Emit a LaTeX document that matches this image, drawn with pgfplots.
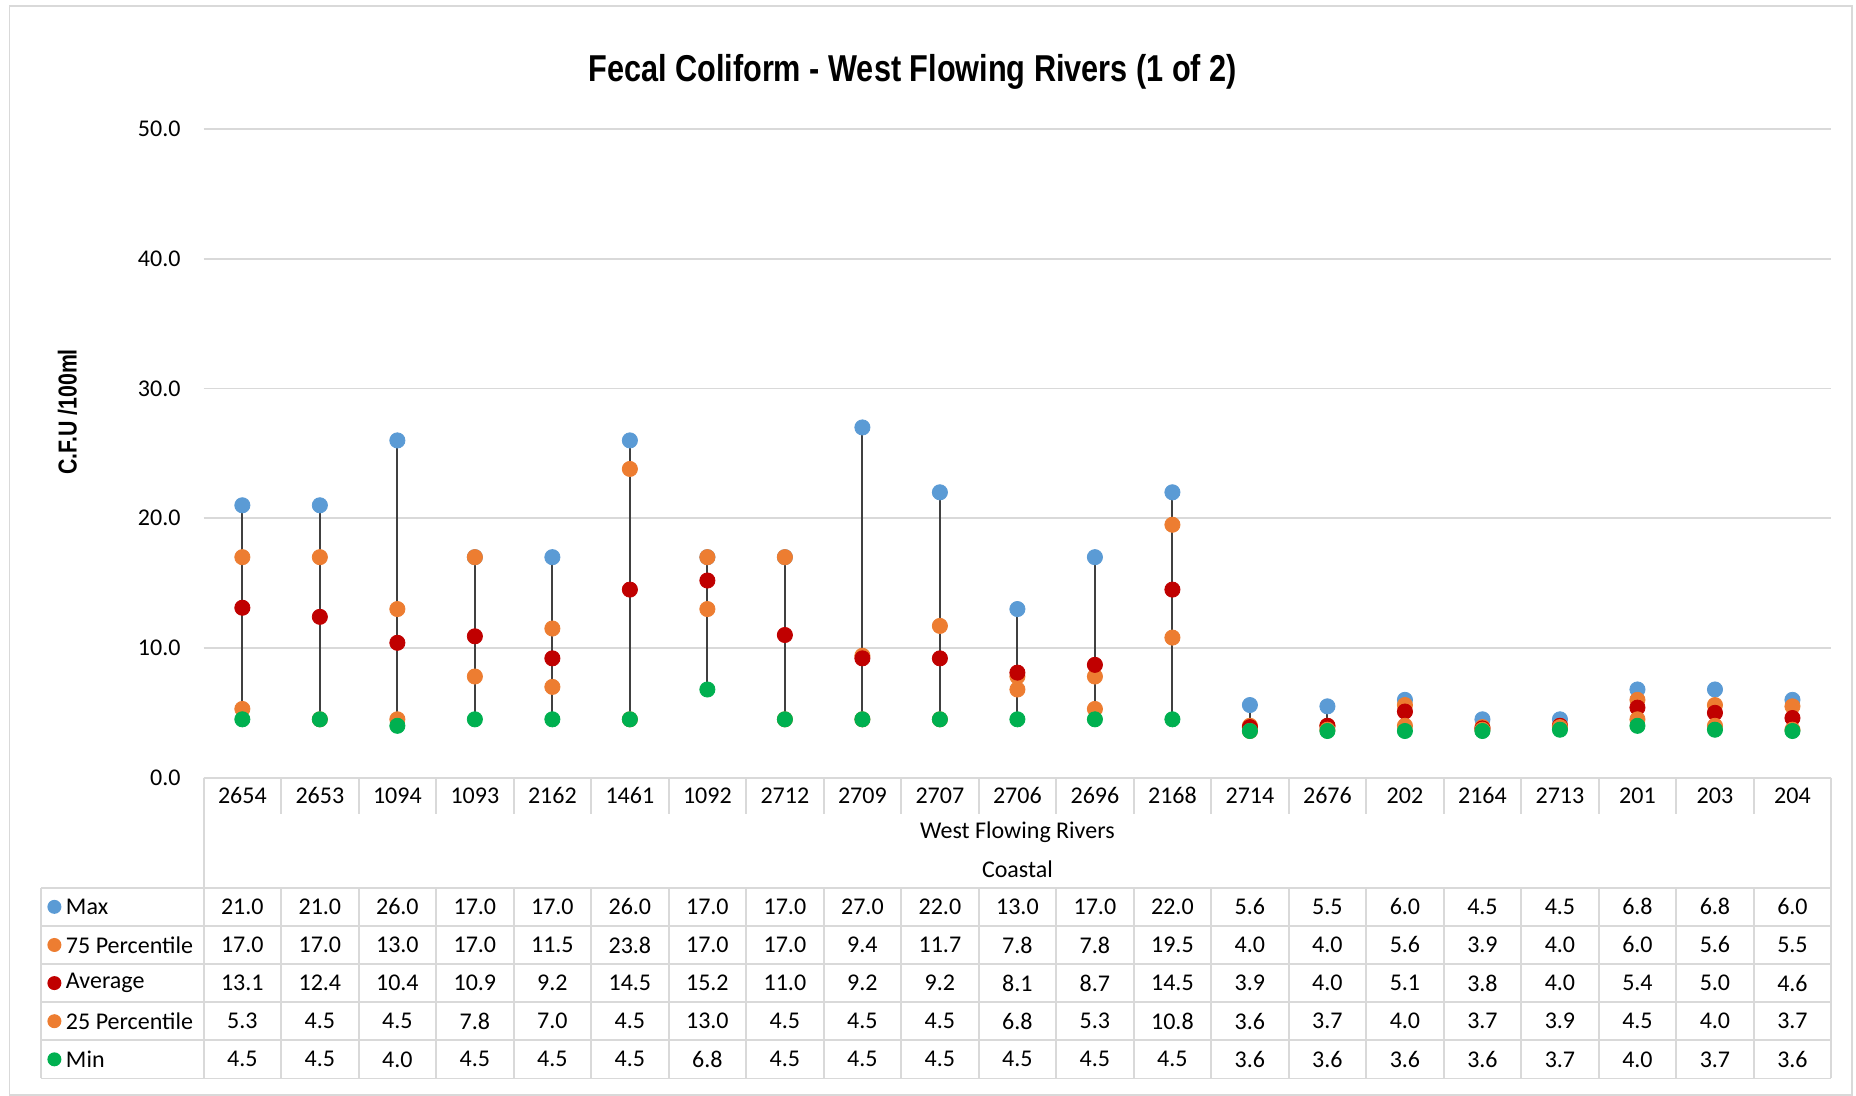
\documentclass[border=0pt]{standalone}
\usepackage{pgfplots}
\pgfplotsset{compat=1.18}
\usepackage{pgfplotstable}
\usepackage{fontspec}
\setmainfont{Carlito}
\newfontfamily\titlefont{Liberation Sans}[FakeStretch=0.82]
\definecolor{cmax}{HTML}{5B9BD5}
\definecolor{cpct}{HTML}{ED7D31}
\definecolor{cavg}{HTML}{C00000}
\definecolor{cmin}{HTML}{00B050}
\definecolor{gridc}{HTML}{D9D9D9}
\definecolor{hilo}{HTML}{404040}

\pgfplotstableread{
x name max p75 avg p25 min
0 2654 21.0 17.0 13.1 5.3 4.5
1 2653 21.0 17.0 12.4 4.5 4.5
2 1094 26.0 13.0 10.4 4.5 4.0
3 1093 17.0 17.0 10.9 7.8 4.5
4 2162 17.0 11.5 9.2 7.0 4.5
5 1461 26.0 23.8 14.5 4.5 4.5
6 1092 17.0 17.0 15.2 13.0 6.8
7 2712 17.0 17.0 11.0 4.5 4.5
8 2709 27.0 9.4 9.2 4.5 4.5
9 2707 22.0 11.7 9.2 4.5 4.5
10 2706 13.0 7.8 8.1 6.8 4.5
11 2696 17.0 7.8 8.7 5.3 4.5
12 2168 22.0 19.5 14.5 10.8 4.5
13 2714 5.6 4.0 3.9 3.6 3.6
14 2676 5.5 4.0 4.0 3.7 3.6
15 202 6.0 5.6 5.1 4.0 3.6
16 2164 4.5 3.9 3.8 3.7 3.6
17 2713 4.5 4.0 4.0 3.9 3.7
18 201 6.8 6.0 5.4 4.5 4.0
19 203 6.8 5.6 5.0 4.0 3.7
20 204 6.0 5.5 4.6 3.7 3.6
}\datatable

\begin{document}
\begin{tikzpicture}
\useasboundingbox (-101.8pt,-159.15pt) rectangle (826.2pt,388.85pt);
\fill[white] (-101.8pt,-159.15pt) rectangle (826.2pt,388.85pt);
\draw[gridc, line width=0.9pt] (-97.05pt,-158.5pt) rectangle (824.2pt,385.85pt);

\begin{axis}[
  at={(0,0)}, anchor=south west,
  width=813.8pt, height=324.3pt, scale only axis,
  xmin=-0.5, xmax=20.5, ymin=0, ymax=50,
  clip=false,
  axis line style={draw=none},
  tick style={draw=none},
  ytick={0,10,...,50},
  ymajorgrids, grid style={gridc, line width=0.9pt},
  xtick={0,...,20},
  xticklabels from table={\datatable}{name},
  xticklabel style={anchor=center, yshift=-8.9pt},
  yticklabel style={xshift=-8pt, /pgf/number format/.cd, fixed, fixed zerofill, precision=1},
  /pgf/number format/assume math mode=true,
  tick label style={font=\fontsize{12}{14}\selectfont},
  every axis plot/.append style={mark size=3.8pt},
]
\addplot[forget plot, draw=none, mark=none,
  error bars/.cd, y dir=minus, y explicit, error mark=none,
  error bar style={draw=hilo, line width=0.95pt}]
  table[x=x, y=max, y error expr=\thisrow{max}-\thisrow{min}] {\datatable};
\addplot[only marks, mark=*, color=cmax] table[x=x, y=max] {\datatable};
\addplot[only marks, mark=*, color=cpct] table[x=x, y=p75] {\datatable};
\addplot[only marks, mark=*, color=cavg] table[x=x, y=avg] {\datatable};
\addplot[only marks, mark=*, color=cpct] table[x=x, y=p25] {\datatable};
\addplot[only marks, mark=*, color=cmin] table[x=x, y=min] {\datatable};
\end{axis}

% data table
\def\cw{38.7524}
\def\rh{19.06}
\def\ttop{-55.05}
\begin{scope}[gridc, line width=0.9pt]
  \draw (0,0) -- (813.8pt,0);
  \draw (0,0) -- (0,\ttop pt);
  \draw (813.8pt,0) -- (813.8pt,-150.35pt);
  \foreach \i in {1,...,20} \draw (\i*\cw pt,0) -- (\i*\cw pt,-18.35pt);
  \foreach \k in {0,...,5} \draw (-81.1pt,\ttop pt-\k*\rh pt) -- (813.8pt,\ttop pt-\k*\rh pt);
  \draw (-81.1pt,\ttop pt) -- (-81.1pt,-150.35pt);
  \foreach \i in {0,...,20} \draw (\i*\cw pt,\ttop pt) -- (\i*\cw pt,-150.35pt);
\end{scope}
\node[font=\fontsize{12}{14}\selectfont] at (406.9pt,-27.2pt) {West Flowing Rivers};
\node[font=\fontsize{12}{14}\selectfont] at (406.9pt,-45.6pt) {Coastal};

\foreach \col/\lab/\clr [count=\k from 0] in {max/Max/cmax, p75/75 Percentile/cpct, avg/Average/cavg, p25/25 Percentile/cpct, min/Min/cmin}{
  \fill[\clr] (-74.6pt,\ttop pt-\k*\rh pt-0.5*\rh pt) circle (3.5pt);
  \node[anchor=west, inner sep=0pt, font=\fontsize{12}{14}\selectfont] at (-69pt,\ttop pt-\k*\rh pt-0.5*\rh pt) {\lab};
  \foreach \i in {0,...,20}{
    \pgfplotstablegetelem{\i}{\col}\of\datatable
    \node[font=\fontsize{12}{14}\selectfont] at (\i*\cw pt+0.5*\cw pt,\ttop pt-\k*\rh pt-0.5*\rh pt) {\pgfplotsretval};
  }
}

\node[font=\titlefont\bfseries\fontsize{18.7}{22}\selectfont] at (354.5pt,352.7pt) {Fecal Coliform - West Flowing Rivers (1 of 2)};
\node[rotate=90, font=\titlefont\bfseries\fontsize{13}{15}\selectfont] at (-68.05pt,182.9pt) {C.F.U /100ml};
\end{tikzpicture}
\end{document}
